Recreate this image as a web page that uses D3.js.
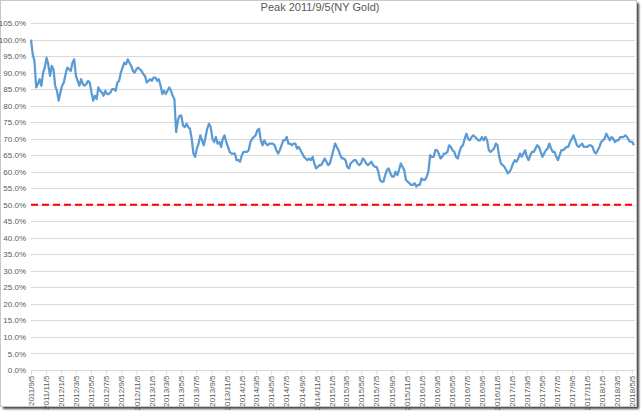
<!DOCTYPE html>
<html><head><meta charset="utf-8">
<script src="https://cdn.jsdelivr.net/npm/d3@7"></script>
<style>body{margin:0;background:#fff}svg{display:block}</style>
</head><body>
<svg id="c" width="644" height="413"></svg>
<script>
const title = "Peak 2011/9/5(NY Gold)";
const startDate = "2011/9/5"; // weekly observations (Mondays) from this date
// % of the 2011/9/5 peak, weekly
const values2011 = [100.0,95.5,93.5,85.5,86.5,88.0,86.0,90.0,91.5,94.5,92.5,89.0,92.0,91.0,86.0,84.5,81.5];
const values2012 = [84.0,86.0,87.0,89.5,91.5,91.0,90.5,93.0,94.0,89.0,87.5,86.0,88.0,86.5,86.0,86.5,87.5,87.0,84.0,81.5,83.0,82.0,85.5,84.5,84.0,83.0,84.5,83.5,83.5,84.0,85.0,85.0,84.5,87.0,87.5,90.0,91.5,93.0,92.5,94.0,93.0,92.0,90.5,90.0,91.0,91.5,91.0,90.5,89.5,89.0,87.0,87.5,88.0];
const values2013 = [87.5,88.5,88.5,87.5,88.0,86.0,83.5,84.5,83.5,84.5,85.5,84.5,83.0,82.0,72.0,75.5,77.0,77.0,74.0,73.5,74.5,73.5,73.0,70.0,65.5,64.5,67.0,68.5,71.0,69.5,68.0,70.5,73.0,74.5,73.5,70.0,69.0,70.5,68.5,69.0,67.5,70.0,71.0,69.0,67.5,66.0,65.5,65.5,65.5,63.5,63.5,63.0];
const values2014 = [65.0,66.0,66.0,66.0,66.5,69.0,70.0,70.5,71.0,72.5,73.0,69.5,68.0,69.5,68.5,68.0,68.5,68.5,68.5,68.0,66.5,65.5,66.5,68.0,69.5,69.5,70.5,68.5,68.5,68.0,68.5,68.5,67.0,67.5,66.5,65.5,64.5,64.0,63.5,64.0,63.5,64.5,62.5,61.0,61.5,62.0,62.0,63.0,64.0,63.0,62.0,62.5];
const values2015 = [64.5,66.5,68.5,67.5,66.5,65.0,64.0,64.0,63.5,61.5,61.0,62.5,63.0,63.5,63.5,62.5,62.0,62.5,64.0,63.5,62.5,62.0,62.5,63.0,62.0,61.5,61.5,60.0,57.5,57.0,57.0,59.0,60.5,61.0,59.5,58.5,58.5,60.0,59.0,60.5,62.5,61.5,60.5,57.5,57.0,56.5,56.0,56.0,56.5,55.5,56.0,56.0];
const values2016 = [58.0,57.5,57.5,58.5,60.0,65.0,64.5,64.5,66.5,66.5,65.5,64.0,64.5,65.5,65.5,66.0,68.0,67.5,66.5,66.0,64.5,64.0,66.0,67.5,68.0,70.0,71.5,70.0,69.5,70.5,71.0,70.5,70.0,69.5,69.5,70.5,69.5,70.5,69.5,66.5,66.0,66.5,67.0,68.5,68.0,64.5,62.5,62.0,61.5,60.5,59.5,60.0];
const values2017 = [61.0,62.5,63.5,63.0,64.0,65.5,64.5,65.5,66.5,64.5,63.5,65.0,66.0,66.0,67.0,68.0,67.5,66.0,64.5,65.5,66.5,67.0,68.5,67.0,66.0,66.0,64.5,63.5,65.0,66.5,66.5,67.0,67.5,67.5,69.0,70.0,71.0,69.5,68.0,67.5,68.0,68.5,67.5,67.5,67.5,68.0,68.0,67.5,66.0,65.5,66.5,67.5];
const values2018 = [69.0,69.5,70.0,71.5,70.5,69.5,70.5,70.0,69.0,69.5,69.5,70.5,70.5,70.5,71.0,70.5,69.5,69.0,69.0,68.0];
const thresholdValue = 50;
const yTickValues = [0,5,10,15,20,25,30,35,40,45,50,55,60,65,70,75,80,85,90,95,100,105];
const xTickLabels = ["2011/9/5","2011/11/5","2012/1/5","2012/3/5","2012/5/5","2012/7/5","2012/9/5","2012/11/5",
"2013/1/5","2013/3/5","2013/5/5","2013/7/5","2013/9/5","2013/11/5","2014/1/5","2014/3/5","2014/5/5","2014/7/5",
"2014/9/5","2014/11/5","2015/1/5","2015/3/5","2015/5/5","2015/7/5","2015/9/5","2015/11/5","2016/1/5","2016/3/5",
"2016/5/5","2016/7/5","2016/9/5","2016/11/5","2017/1/5","2017/3/5","2017/5/5","2017/7/5","2017/9/5","2017/11/5",
"2018/1/5","2018/3/5","2018/5/5"];

const values = [].concat(values2011,values2012,values2013,values2014,values2015,values2016,values2017,values2018);
const parse = d3.timeParse("%Y/%-m/%-d");
const t0 = parse(startDate);
const data = values.map((v,i)=>({date:d3.timeWeek.offset(t0,i), v}));
const tickDates = xTickLabels.map(parse);

const svg = d3.select("#c");
const W=644,H=413;
const defs = svg.append("defs");
const f = defs.append("filter").attr("id","sh").attr("x","-5%").attr("y","-5%").attr("width","110%").attr("height","110%");
f.append("feGaussianBlur").attr("stdDeviation",1.2);
svg.append("rect").attr("x",3).attr("y",3).attr("width",636).attr("height",406).attr("fill","#444").attr("filter","url(#sh)");
svg.append("rect").attr("x",0.5).attr("y",0.5).attr("width",636).attr("height",406).attr("fill","#fff").attr("stroke","#c8c8c8");

const x = d3.scaleTime().domain([data[0].date, data[data.length-1].date]).range([31,634]);
const y = d3.scaleLinear().domain([0,105]).range([370,23]);
const txt = "#595959";
const font = "'Liberation Sans', Arial, sans-serif";

// gridlines
svg.append("g").selectAll("line").data(yTickValues.filter(d=>d>0)).join("line")
  .attr("x1",31).attr("x2",635).attr("y1",d=>Math.round(y(d))+0.5).attr("y2",d=>Math.round(y(d))+0.5)
  .attr("stroke","#d9d9d9").attr("stroke-width",1);

// y axis labels
const yAxis = d3.axisLeft(y).tickValues(yTickValues).tickSize(0).tickPadding(0).tickFormat(d=>d.toFixed(1)+"%");
const gy = svg.append("g").attr("transform","translate(26,0)").call(yAxis);
gy.select(".domain").remove();
gy.selectAll("text").attr("fill",txt).style("font-family",font).style("font-size","8px");

// x axis
const xAxis = d3.axisBottom(x).tickValues(tickDates).tickSize(4).tickFormat((d,i)=>xTickLabels[i]);
const gx = svg.append("g").attr("transform",`translate(0,${Math.round(y(0))+0.5})`).call(xAxis);
gx.select(".domain").attr("stroke","#d9d9d9").attr("d","M31,0H635");
gx.selectAll(".tick line").attr("stroke","#d9d9d9");
gx.selectAll("text").attr("fill",txt).style("font-family",font).style("font-size","8px")
  .attr("text-anchor","end").attr("transform","rotate(-90)").attr("x",-5).attr("y",0).attr("dy","0.33em");

// threshold line
svg.append("line").attr("x1",31).attr("x2",634).attr("y1",y(thresholdValue)).attr("y2",y(thresholdValue))
  .attr("stroke","#ff0000").attr("stroke-width",2).attr("stroke-dasharray","7,4");

// series
const line = d3.line().x(d=>x(d.date)).y(d=>y(d.v));
svg.append("path").datum(data).attr("d",line).attr("fill","none").attr("stroke","#5b9bd5")
  .attr("stroke-width",2.25).attr("stroke-linejoin","round");

// title
svg.append("text").attr("x",320).attr("y",11).attr("text-anchor","middle").attr("fill",txt)
  .style("font-family",font).style("font-size","11px").text(title);
</script>
</body></html>
